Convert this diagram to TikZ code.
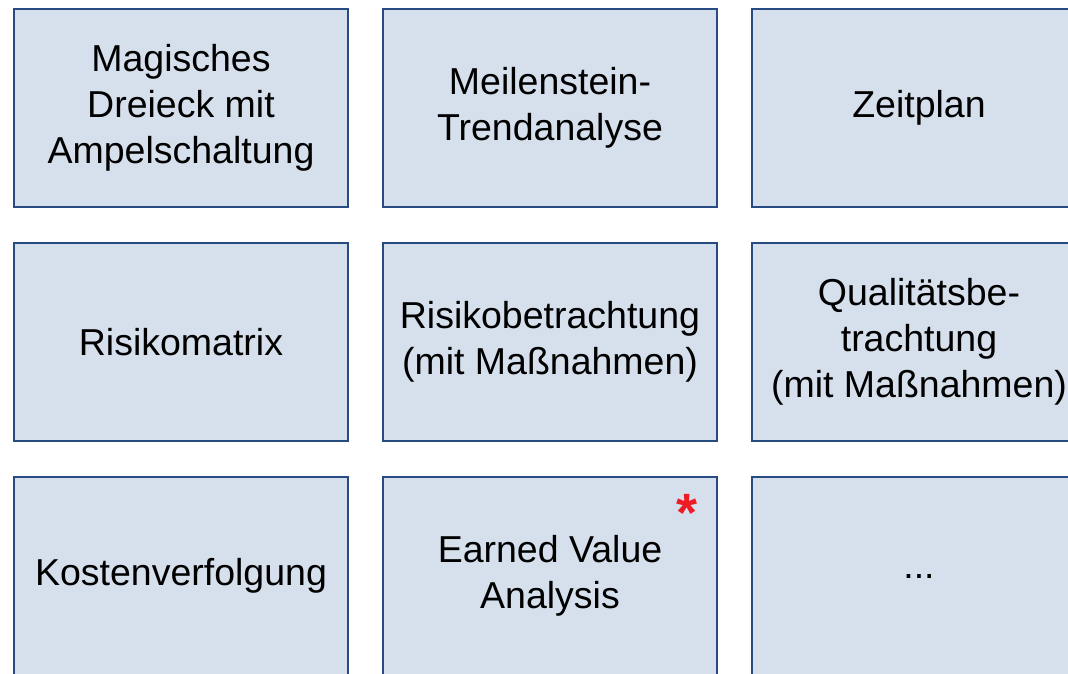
\documentclass[tikz,border=0pt]{standalone}
\usepackage{fontspec}
\setmainfont{Liberation Sans}
\usepackage{xcolor}
\usetikzlibrary{positioning}
\definecolor{kblau} {RGB}{ 40, 76,130}
\definecolor{kfill} {RGB}{214,223,236}
\definecolor{sred}  {RGB}{237, 28, 36}
\tikzset{
  % Tile for one controlling instrument
  KT/.style={rectangle,draw=kblau,fill=kfill,line width=1.8pt,
             minimum width=334pt,minimum height=198pt,align=center,
             inner sep=0pt,font=\fontsize{37.5}{46}\selectfont},
  % Red marker
  ST/.style={font=\fontsize{54}{54}\selectfont\bfseries,text=sred,inner sep=0pt},
}
\begin{document}
\begin{tikzpicture}[x=1pt,y=-1pt]
      \useasboundingbox (0,0) rectangle (1068,674);
      \clip (0,0) rectangle (1068,674);
      \node[KT] at (181,108) (mag) {Magisches\\Dreieck mit\\Ampelschaltung};
      \node[KT] at (550,108) (mta) {Meilenstein-\\Trendanalyse};
      \node[KT] at (919,108) (zeit) {Zeitplan};
      \node[KT] at (181,342) (rmat) {Risikomatrix};
      \node[KT] at (550,342) (rbet) {Risikobetrachtung\\(mit Maßnahmen)};
      \node[KT] at (919,342) (qbet) {Qualitätsbe-\\trachtung\\(mit Maßnahmen)};
      \node[KT] at (181,576) (kost) {Kostenverfolgung};
      \node[KT] at (550,576) (eva) {Earned Value\\Analysis};
      \node[KT] at (919,576) (etc) {...};
      \node[ST] at (687,513) (stern) {*};
\end{tikzpicture}
\end{document}
